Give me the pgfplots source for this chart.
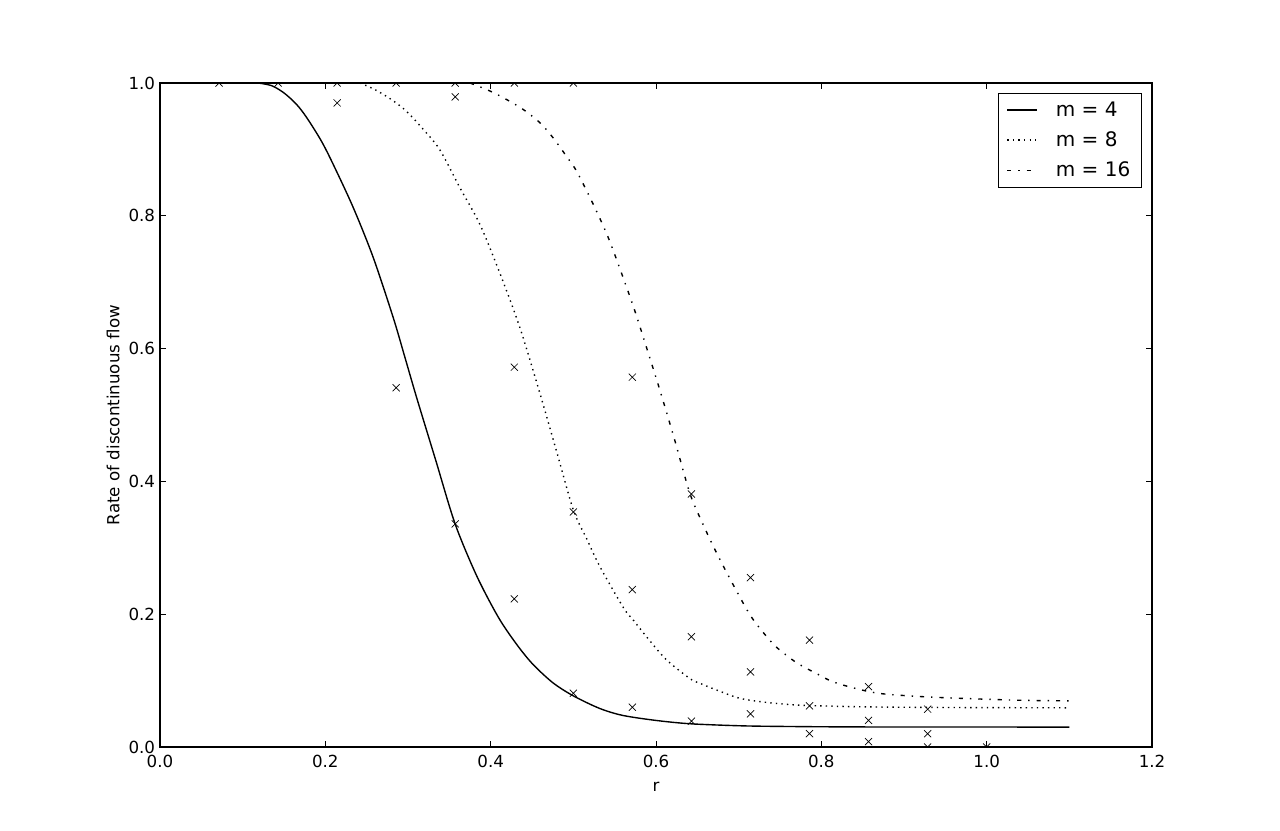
\documentclass[border=0pt]{standalone}
\usepackage{pgfplots}
\pgfplotsset{compat=1.18}
\usepackage{fontspec}
\setmainfont{DejaVu Sans}
\begin{document}
\begin{tikzpicture}
\begin{axis}[name=ax,
  width=714.24pt, height=478.08pt, scale only axis,
  xmin=0, xmax=1.2, ymin=0, ymax=1,
  xtick={0,0.2,0.4,0.6,0.8,1.0,1.2},
  ytick={0,0.2,0.4,0.6,0.8,1.0},
  minor tick num=0,
  tick align=inside, tick pos=both, major tick length=4pt,
  tick style={black, line width=0.6pt},
  axis line style={line width=0.9pt},
  /pgf/number format/assume math mode=true,
  xticklabel style={/pgf/number format/.cd, fixed, fixed zerofill, precision=1, /tikz/yshift=-2pt},
  yticklabel style={/pgf/number format/.cd, fixed, fixed zerofill, precision=1},
  ticklabel style={font=\fontsize{12}{14}\selectfont},
  label style={font=\fontsize{12}{14}\selectfont},
  xlabel={r}, ylabel={Rate of discontinuous flow},
  xlabel style={at={(axis description cs:0.5,-0.0602)}, anchor=center},
  ylabel style={at={(axis description cs:-0.0473,0.5)}, anchor=center},
  clip marker paths=true,
  legend style={at={(0.9899,0.985)}, anchor=north east, draw=black, line width=0.8pt,
    font=\fontsize{14.4}{17}\selectfont, row sep=5.5pt, inner xsep=6pt, inner ysep=4pt},
  legend cell align=left,
  legend image code/.code={\draw[#1] (0pt,0pt) -- (21.6pt,0pt); \path[draw=none] (0pt,0pt) -- (33pt,0pt);},
]
\addplot[black, line width=1pt, smooth] coordinates {
(0.1185,1) (0.135,0.996) (0.15,0.985) (0.165,0.968) (0.1774,0.948) (0.195,0.913) (0.2097,0.877)
(0.2339,0.812) (0.258,0.737) (0.2823,0.646) (0.296,0.588) (0.3105,0.526) (0.3335,0.432)
(0.357,0.336) (0.383,0.258) (0.409,0.196) (0.43,0.157) (0.45,0.126) (0.475,0.097)
(0.5,0.077) (0.532,0.058) (0.56,0.0475) (0.6,0.040) (0.641,0.035) (0.7,0.032)
(0.75,0.031) (0.85,0.0302) (1.1,0.030)};
\addlegendentry{m = 4}
\addplot[black, line width=1pt, dash pattern=on 1pt off 3pt, smooth] coordinates {
(0.242,1) (0.26,0.99) (0.28,0.975) (0.2984,0.957) (0.32,0.928) (0.3387,0.899)
(0.3629,0.842) (0.387,0.787) (0.4113,0.713) (0.4355,0.631) (0.4597,0.532) (0.48,0.444)
(0.5,0.357) (0.516,0.314) (0.532,0.272) (0.5605,0.210) (0.5726,0.191) (0.5925,0.160)
(0.6129,0.131) (0.641,0.103) (0.653,0.096) (0.675,0.085) (0.7016,0.0733) (0.735,0.067)
(0.774,0.063) (0.85,0.0605) (0.95,0.0595) (1.1,0.059)};
\addlegendentry{m = 8}
\addplot[black, line width=1pt, dash pattern=on 3pt off 5pt on 1pt off 5pt, smooth] coordinates {
(0.375,1) (0.399,0.988) (0.4194,0.975) (0.4395,0.960) (0.4597,0.940) (0.4758,0.917)
(0.492,0.889) (0.504,0.867) (0.5242,0.817) (0.5423,0.767) (0.5605,0.706) (0.5746,0.656)
(0.5887,0.601) (0.6048,0.537) (0.622,0.465) (0.641,0.382) (0.657,0.335) (0.6734,0.292)
(0.6935,0.244) (0.7137,0.199) (0.73,0.172) (0.746,0.150) (0.77,0.127) (0.795,0.110)
(0.8145,0.098) (0.845,0.087) (0.875,0.080) (0.935,0.075) (1.036,0.0705) (1.1,0.0695)};
\addlegendentry{m = 16}
\addplot[only marks, mark=x, mark size=3.6pt, black, line width=0.5pt, forget plot] coordinates {
(0.0714,1) (0.1429,1) (0.2143,1) (0.2143,0.970) (0.2857,1) (0.2857,0.541)
(0.3571,1) (0.3571,0.979) (0.3571,0.336) (0.4286,1) (0.4286,0.572) (0.4286,0.223)
(0.5,1) (0.5,0.354) (0.5,0.081) (0.5714,0.557) (0.5714,0.237) (0.5714,0.060)
(0.6429,0.381) (0.6429,0.166) (0.6429,0.039) (0.7143,0.255) (0.7143,0.113) (0.7143,0.050)
(0.7857,0.161) (0.7857,0.062) (0.7857,0.020) (0.8571,0.091) (0.8571,0.040) (0.8571,0.008)
(0.9286,0.057) (0.9286,0.020) (0.9286,0.0) (1.0,0.0)};
\end{axis}
\path ([xshift=-115.2pt,yshift=-60.48pt]ax.south west) rectangle ([xshift=92.16pt,yshift=59.76pt]ax.north east);
\end{tikzpicture}
\end{document}
